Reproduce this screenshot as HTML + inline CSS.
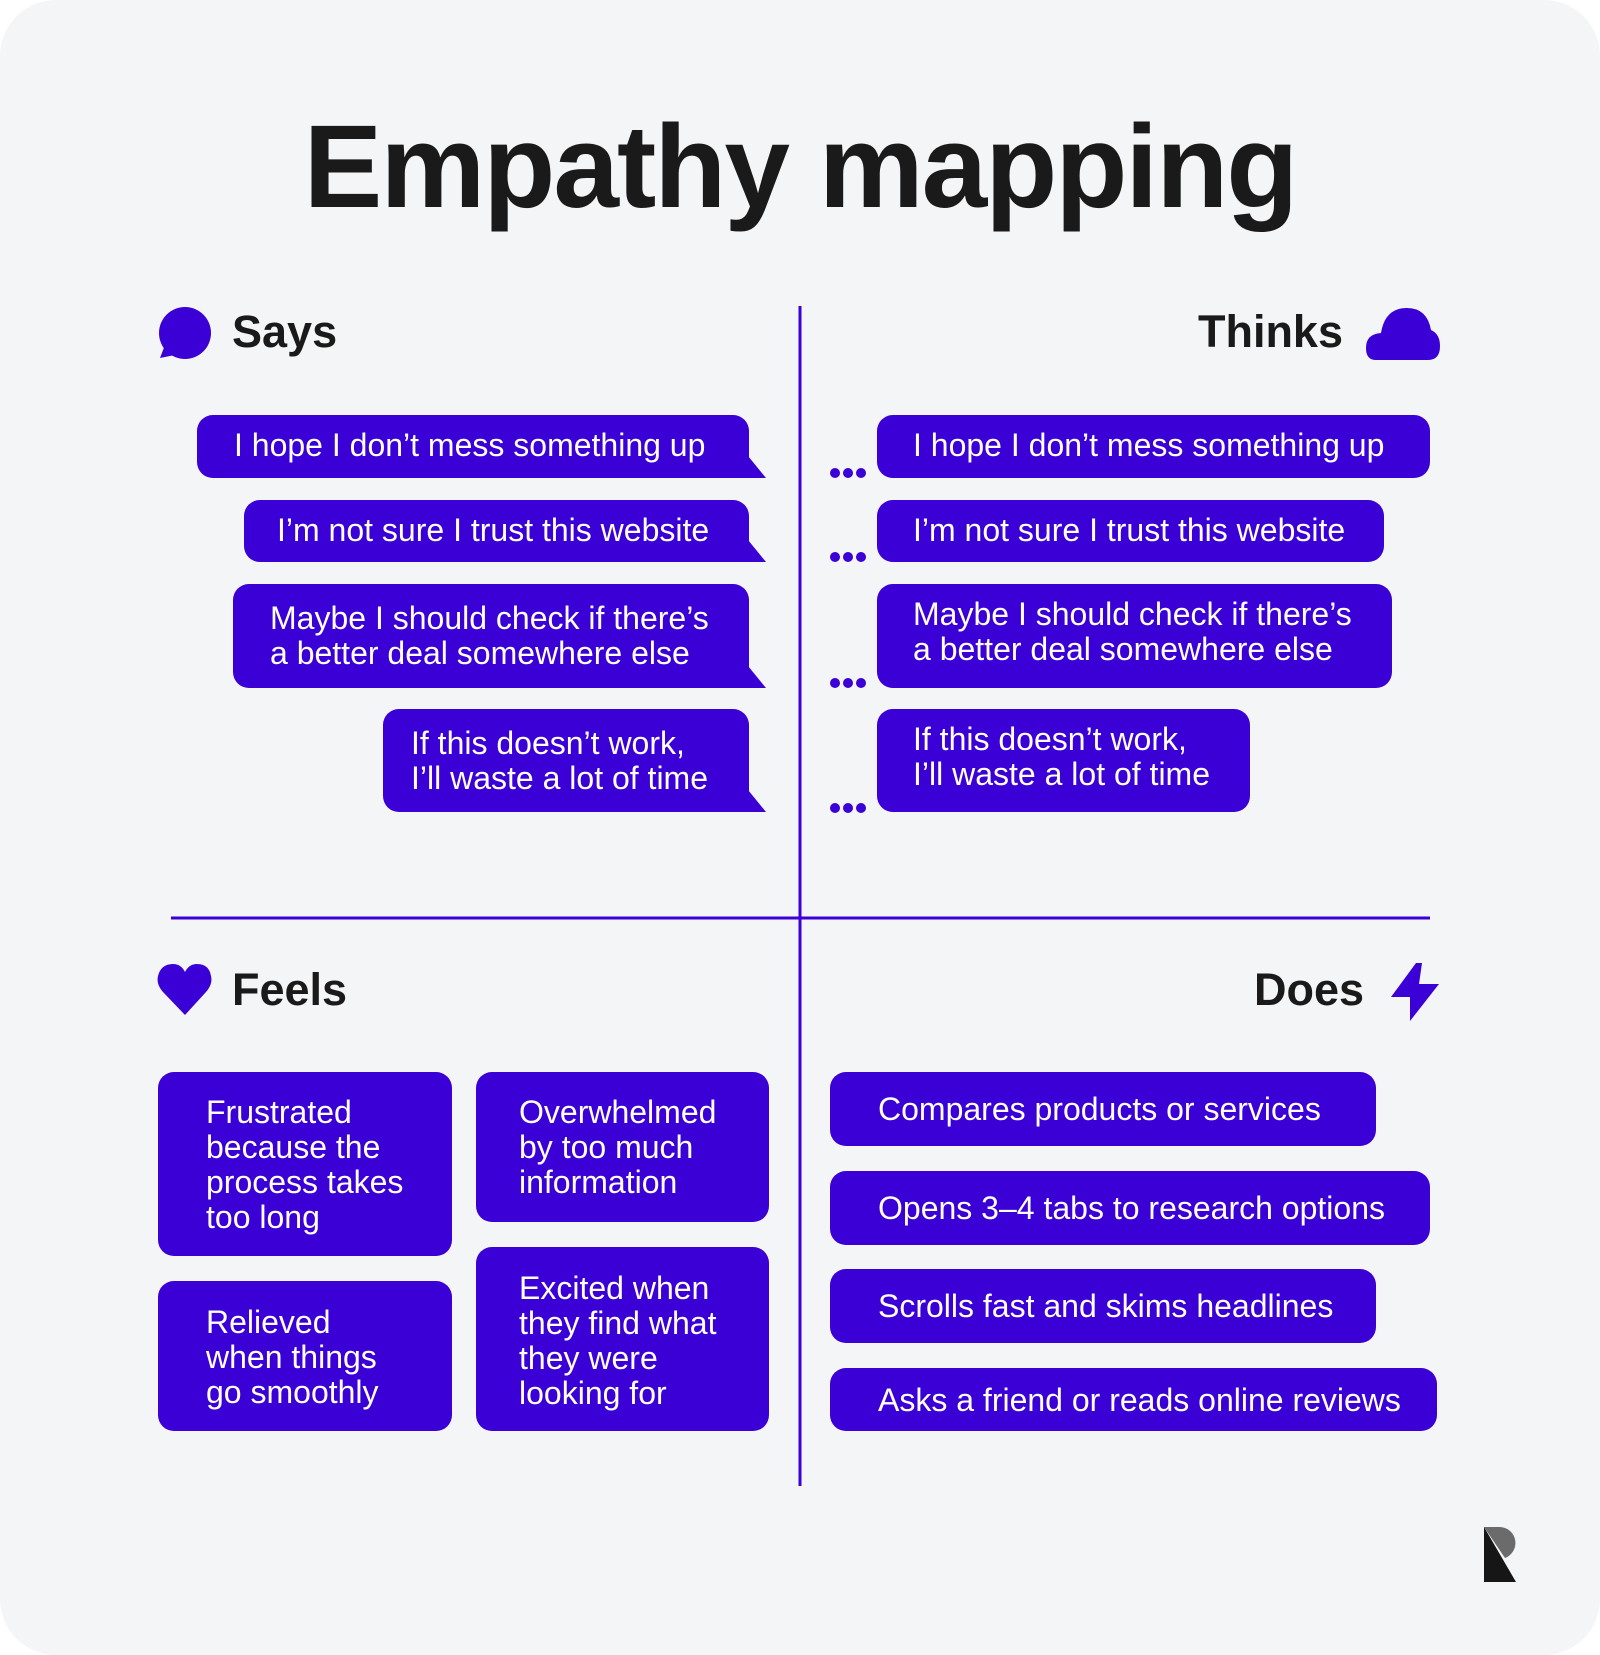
<!DOCTYPE html>
<html><head><meta charset="utf-8"><style>
html,body{margin:0;padding:0;background:#fff;}
body{width:1600px;height:1655px;position:relative;overflow:hidden;font-family:"Liberation Sans",sans-serif;}
.card{position:absolute;left:0;top:0;width:1600px;height:1655px;background:#f4f5f7;border-radius:56px;}
.t{position:absolute;white-space:nowrap;}
.b{position:absolute;background:#3a00d6;border-radius:16px;color:#fff;font-size:32px;line-height:35px;box-sizing:border-box;}
.b span{position:absolute;white-space:nowrap;}
.h{font-size:45px;font-weight:bold;color:#1a1a1a;}
</style></head><body>
<div class="card"></div>
<div class="t" style="left:0;width:1600px;text-align:center;top:100px;font-size:118px;font-weight:bold;color:#1a1a1a;letter-spacing:-2px;line-height:135px;">Empathy mapping</div>

<svg width="1600" height="1655" style="position:absolute;left:0;top:0">
<rect x="798.5" y="306" width="3" height="1180" fill="#3a00d6"/>
<rect x="171" y="916.5" width="1259" height="3" fill="#3a00d6"/>
<circle cx="185" cy="333" r="26" fill="#3a00d6"/>
<path d="M165 345 L160 358 L180 354 Z" fill="#3a00d6"/>
<path d="M1376 360 Q1366 360 1366 348 Q1366 334 1381 333 Q1385 308 1407 308 Q1427 308 1431 330 Q1440 334 1440 346 Q1440 360 1428 360 Z" fill="#3a00d6"/>
<path d="M185 1015 L163 992 Q156 984 158 976 Q161 964 173 964 Q181 964 185 972 Q189 964 197 964 Q209 964 211 976 Q213 984 206 992 Z" fill="#3a00d6"/>
<path d="M1416 963 L1391 997 L1410 997 L1410 1021 L1439 984 L1419 984 L1422 963 Z" fill="#3a00d6"/>
<g fill="#3a00d6">
<path d="M735 440 L766 478 L735 478 Z"/>
<path d="M735 524 L766 562 L735 562 Z"/>
<path d="M735 650 L766 688 L735 688 Z"/>
<path d="M735 774 L766 812 L735 812 Z"/>
</g>
<g fill="#3a00d6">
<circle cx="835" cy="473" r="5"/><circle cx="848" cy="473" r="5"/><circle cx="861" cy="473" r="5"/>
<circle cx="835" cy="557" r="5"/><circle cx="848" cy="557" r="5"/><circle cx="861" cy="557" r="5"/>
<circle cx="835" cy="683" r="5"/><circle cx="848" cy="683" r="5"/><circle cx="861" cy="683" r="5"/>
<circle cx="835" cy="808" r="5"/><circle cx="848" cy="808" r="5"/><circle cx="861" cy="808" r="5"/>
</g>
<path d="M1484 1527 L1484 1582 L1516 1582 Z" fill="#161616"/>
<path d="M1484 1527 L1500 1527 A16 16 0 0 1 1505 1558 Z" fill="#6b6b6b"/>
</svg>

<div class="t h" style="left:232px;top:306px;">Says</div>
<div class="t h" style="right:257px;top:306px;">Thinks</div>
<div class="t h" style="left:232px;top:964px;">Feels</div>
<div class="t h" style="right:236px;top:964px;">Does</div>

<div class="b" style="left:197px;top:415px;width:552px;height:63px;border-radius:16px 16px 0 16px;"><span style="left:37px;top:13px;">I hope I don’t mess something up</span></div>
<div class="b" style="left:244px;top:500px;width:505px;height:62px;border-radius:16px 16px 0 16px;"><span style="left:33px;top:13px;">I’m not sure I trust this website</span></div>
<div class="b" style="left:233px;top:584px;width:516px;height:104px;border-radius:16px 16px 0 16px;"><span style="left:37px;top:17px;">Maybe I should check if there’s<br>a better deal somewhere else</span></div>
<div class="b" style="left:383px;top:709px;width:366px;height:103px;border-radius:16px 16px 0 16px;"><span style="left:28px;top:17px;">If this doesn’t work,<br>I’ll waste a lot of time</span></div>

<div class="b" style="left:877px;top:415px;width:553px;height:63px;"><span style="left:36px;top:13px;">I hope I don’t mess something up</span></div>
<div class="b" style="left:877px;top:500px;width:507px;height:62px;"><span style="left:36px;top:13px;">I’m not sure I trust this website</span></div>
<div class="b" style="left:877px;top:584px;width:515px;height:104px;"><span style="left:36px;top:13px;">Maybe I should check if there’s<br>a better deal somewhere else</span></div>
<div class="b" style="left:877px;top:709px;width:373px;height:103px;"><span style="left:36px;top:13px;">If this doesn’t work,<br>I’ll waste a lot of time</span></div>

<div class="b" style="left:158px;top:1072px;width:294px;height:184px;"><span style="left:48px;top:23px;">Frustrated<br>because the<br>process takes<br>too long</span></div>
<div class="b" style="left:476px;top:1072px;width:293px;height:150px;"><span style="left:43px;top:23px;">Overwhelmed<br>by too much<br>information</span></div>
<div class="b" style="left:158px;top:1281px;width:294px;height:150px;"><span style="left:48px;top:24px;">Relieved<br>when things<br>go smoothly</span></div>
<div class="b" style="left:476px;top:1247px;width:293px;height:184px;"><span style="left:43px;top:24px;">Excited when<br>they find what<br>they were<br>looking for</span></div>

<div class="b" style="left:830px;top:1072px;width:546px;height:74px;"><span style="left:48px;top:20px;">Compares products or services</span></div>
<div class="b" style="left:830px;top:1171px;width:600px;height:74px;"><span style="left:48px;top:20px;">Opens 3–4 tabs to research options</span></div>
<div class="b" style="left:830px;top:1269px;width:546px;height:74px;"><span style="left:48px;top:20px;">Scrolls fast and skims headlines</span></div>
<div class="b" style="left:830px;top:1368px;width:607px;height:63px;"><span style="left:48px;top:15px;">Asks a friend or reads online reviews</span></div>
</body></html>
